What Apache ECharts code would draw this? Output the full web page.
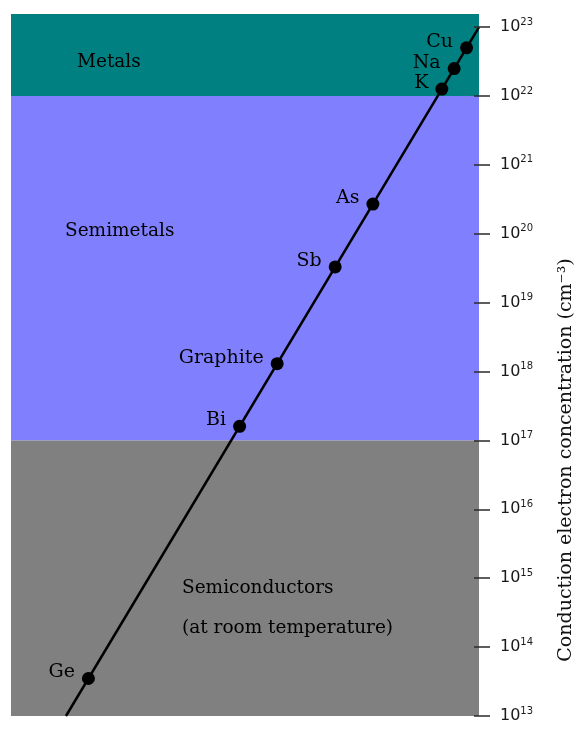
<!DOCTYPE html>
<html>
<head>
<meta charset="utf-8">
<title>Conduction electron concentration</title>
<script src="https://cdn.jsdelivr.net/npm/echarts@6/dist/echarts.min.js"></script>
<style>
  html, body { margin: 0; padding: 0; background: #ffffff; }
  #chart { width: 583px; height: 729px; }
</style>
</head>
<body>
<div id="chart"></div>
<script>
// Materials and their conduction electron concentration (cm^-3)
const elements = ['Ge', 'Bi', 'Graphite', 'Sb', 'As', 'K', 'Na', 'Cu'];
const concentrations = [3.5e13, 1.6e17, 1.3e18, 3.3e19, 2.7e20, 1.26e22, 2.5e22, 5.0e22];

// Ends of the guide line drawn through the materials
const lineEnds = [1e13, 1e23];

// Tick exponents on the concentration axis (10^13 ... 10^23)
const tickExponents = [13, 14, 15, 16, 17, 18, 19, 20, 21, 22, 23];

// Class bands: lower and upper concentration bounds
const bandNames = ['Metals', 'Semimetals', 'Semiconductors\n(at room temperature)'];
const bandLower = [1e22, 1e17, 1e13];
const bandUpper = [null, 1e22, 1e17]; // null = top of the axis

const AXIS_MIN = 13;
const AXIS_MAX = 23.19;
const X_MIN = 11.67;
const X_MAX = 23;

const lg = v => Math.log10(v);
const bandColors = ['#008080', '#8080ff', '#808080'];
const bandLabelPos = [[66, 48], [54, 135], [171, 168]];

const serif = 'DejaVu Serif';

const chart = echarts.init(document.getElementById('chart'), null, { renderer: 'canvas' });

const markAreaData = bandNames.map((name, i) => [
  {
    name: name,
    yAxis: lg(bandLower[i]),
    itemStyle: { color: bandColors[i], opacity: 1 },
    label: { position: bandLabelPos[i] }
  },
  { yAxis: bandUpper[i] === null ? AXIS_MAX : lg(bandUpper[i]) }
]);

const tickFormatter = v => '{b|10}{s|' + Math.round(v) + '}';

chart.setOption({
  animation: false,
  grid: { left: 11, right: 104, top: 14, bottom: 13 },
  xAxis: { type: 'value', min: X_MIN, max: X_MAX, show: false },
  yAxis: [
    {
      type: 'value',
      position: 'right',
      min: AXIS_MIN,
      max: AXIS_MAX,
      interval: 1,
      z: 10,
      splitLine: { show: false },
      axisLine: { show: false },
      axisTick: {
        show: true,
        length: 11,
        customValues: tickExponents,
        lineStyle: { color: '#2a2a2a', width: 1.5 }
      },
      axisLabel: {
        show: true,
        margin: 21,
        customValues: tickExponents,
        formatter: tickFormatter,
        rich: {
          b: { fontFamily: 'DejaVu Sans', fontSize: 16, color: '#1a1a1a', lineHeight: 20 },
          s: { fontFamily: 'DejaVu Sans', fontSize: 10, color: '#1a1a1a', lineHeight: 12, verticalAlign: 'top' }
        }
      }
    },
    {
      type: 'value',
      position: 'right',
      min: AXIS_MIN,
      max: AXIS_MAX,
      interval: 1,
      z: 10,
      splitLine: { show: false },
      axisLine: { show: false },
      axisLabel: { show: false },
      axisTick: {
        show: true,
        inside: true,
        length: 5,
        customValues: tickExponents,
        lineStyle: { color: '#2a2a2a', width: 1.5 }
      }
    }
  ],
  graphic: [
    {
      type: 'text',
      x: 566,
      y: 460,
      rotation: Math.PI / 2,
      style: {
        text: 'Conduction electron concentration (cm⁻³)',
        fontFamily: serif,
        fontSize: 19,
        fill: '#111',
        align: 'center',
        verticalAlign: 'middle'
      }
    }
  ],
  series: [
    {
      type: 'line',
      z: 1,
      data: [],
      markArea: {
        silent: true,
        label: {
          show: true,
          fontFamily: serif,
          fontSize: 18.5,
          color: '#000',
          lineHeight: 40,
          align: 'left',
          verticalAlign: 'middle'
        },
        data: markAreaData
      }
    },
    {
      type: 'line',
      z: 3,
      symbol: 'none',
      data: lineEnds.map(v => [lg(v), lg(v)]),
      lineStyle: { color: '#000', width: 2.5 }
    },
    {
      type: 'scatter',
      z: 4,
      symbol: 'circle',
      symbolSize: 13,
      itemStyle: { color: '#000', opacity: 1 },
      data: elements.map((name, i) => ({
        name: name,
        value: [lg(concentrations[i]), lg(concentrations[i])]
      })),
      label: {
        show: true,
        formatter: p => p.name,
        position: 'left',
        distance: 7,
        offset: [0, -6],
        fontFamily: serif,
        fontSize: 19,
        color: '#000',
        opacity: 1
      }
    }
  ]
});
</script>
</body>
</html>
